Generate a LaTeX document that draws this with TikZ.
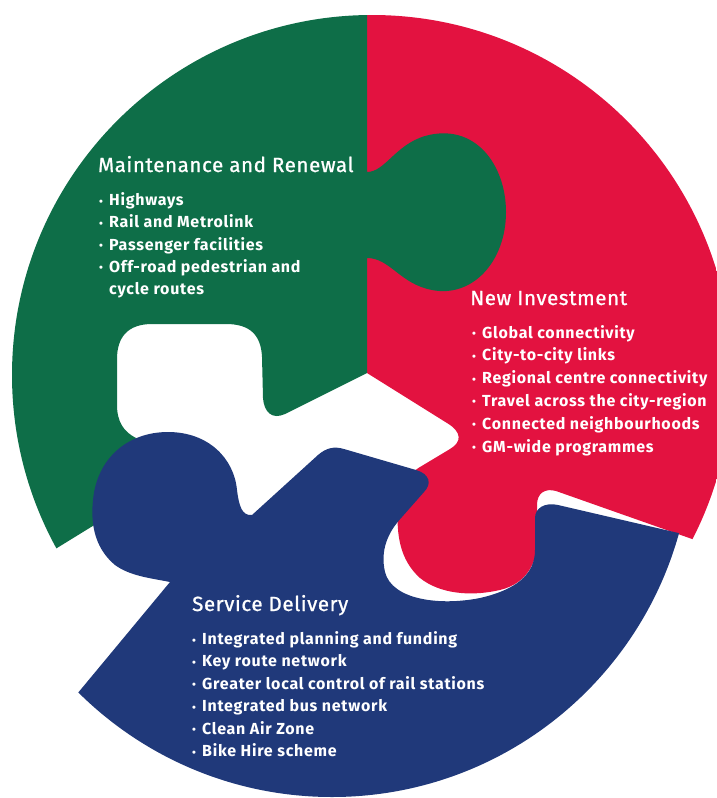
\documentclass[tikz,border=0pt]{standalone}
\usepackage{fontspec}
\setmainfont{Fira Sans}

\definecolor{mrgreen}{RGB}{14,110,72}
\definecolor{nired}{RGB}{227,18,64}
\definecolor{sdblue}{RGB}{32,57,122}

\newcommand{\bul}{\makebox[10pt][l]{\raisebox{0.5pt}{\scalebox{0.7}{\textbullet}}}}

\begin{document}
\begin{tikzpicture}[x=1pt,y=-1pt,
    title/.style={anchor=base west,inner sep=0,text=white,
        font=\fontsize{20.5}{20.5}\selectfont\addfontfeatures{FakeBold=1,LetterSpace=3}},
    item/.style={anchor=base west,inner sep=0,text=white,
        font=\fontsize{16}{16}\selectfont\bfseries\addfontfeatures{LetterSpace=4.5}}]
    \clip (0,0) rectangle (717,798);

    % RED PIECE ON RIGHT
    \begin{scope}
    \clip (372,375) circle[radius=360pt];
    \fill[nired] (367,-20) -- (367,373) -- (447,423)
        .. controls (462,432) and (462,442) .. (450,449) -- (420,467)
        .. controls (405,476) and (399,490) .. (398,505)
        .. controls (396,535) and (400,560) .. (420,578)
        .. controls (440,594) and (470,596) .. (495,591)
        .. controls (525,586) and (538,565) .. (538,535) -- (537,505)
        .. controls (537,493) and (545,488) .. (556,491)
        -- (780,570) -- (780,-20) -- cycle;
    \end{scope}

    % GREEN PIECE ON LEFT
    \begin{scope}
    \clip (372,375) circle[radius=360pt];
    \fill[mrgreen] (367,-20) -- (367,172)
        .. controls (385,172) and (395,145) .. (425,136)
        .. controls (475,122) and (506,165) .. (506,212)
        .. controls (506,262) and (472,298) .. (432,290)
        .. controls (400,284) and (390,258) .. (367,258)
        -- (367,373) -- (285,414)
        .. controls (272,420) and (264,412) .. (263,398) -- (262,357)
        .. controls (261,335) and (250,324) .. (226,324) -- (152,324)
        .. controls (128,324) and (117,337) .. (117,359) -- (117,405)
        .. controls (117,422) and (124,432) .. (136,438)
        -- (96,524) -- (57,548) -- (-30,600) -- (-30,-20) -- cycle;
    \end{scope}

    % BLUE PIECE AT BOTTOM
    \begin{scope}
    \clip (332,437) circle[radius=360pt];
    \fill[sdblue] (-40,835) -- (170,582)
        .. controls (150,578) and (130,576) .. (115,565)
        .. controls (97,550) and (90,528) .. (93,500)
        .. controls (97,458) and (128,432) .. (168,432)
        .. controls (208,432) and (234,458) .. (237,490)
        .. controls (239,506) and (242,516) .. (252,515)
        -- (318,455) .. controls (326,448) and (334,446) .. (344,449)
        -- (416,470) .. controls (430,474) and (432,484) .. (424,492)
        -- (402,517) .. controls (388,532) and (380,550) .. (385,572)
        .. controls (392,600) and (440,606) .. (480,598)
        .. controls (515,590) and (535,575) .. (535,550) -- (535,518)
        .. controls (535,508) and (545,502) .. (558,505)
        -- (700,538) -- (780,556) -- (780,835) -- cycle;
    \end{scope}

    % MAINTENANCE AND RENEWAL
    \node[title] (mrtitle) at (98,172) {Maintenance and Renewal};
    \foreach \t [count=\i from 0] in {Highways,Rail and Metrolink,Passenger facilities,Off-road pedestrian and}
        \node[item] (mr\i) at (99,{205.5+22.3*\i}) {\bul\t};
    \node[item] (mr4) at (109,{205.5+22.3*4}) {cycle routes};

    % NEW INVESTMENT
    \node[title] (nititle) at (470,305) {New Investment};
    \foreach \t [count=\i from 0] in {Global connectivity,City-to-city links,Regional centre connectivity,Travel across the city-region,Connected neighbourhoods,GM-wide programmes}
        \node[item] (ni\i) at (472,{338+22.8*\i}) {\bul\t};

    % SERVICE DELIVERY
    \node[title] (sdtitle) at (192,611) {Service Delivery};
    \foreach \t [count=\i from 0] in {Integrated planning and funding,Key route network,Greater local control of rail stations,Integrated bus network,Clean Air Zone,Bike Hire scheme}
        \node[item] (sd\i) at (192,{644.5+22.4*\i}) {\bul\t};
\end{tikzpicture}
\end{document}
